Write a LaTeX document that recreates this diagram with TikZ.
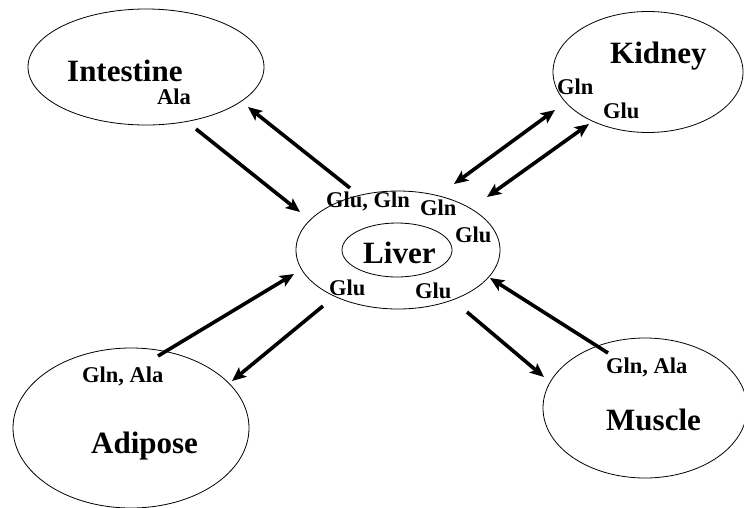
\documentclass[tikz,border=0pt]{standalone}
\usepackage{fontspec}
\setmainfont{Liberation Serif}
\usetikzlibrary{shapes.geometric,arrows.meta}
\tikzset{
  organ/.style={ellipse, draw=black, line width=0.8pt, inner sep=0pt},
  bigname/.style={anchor=base west, inner sep=0pt, font=\bfseries\fontsize{31}{31}\selectfont},
  aminos/.style={anchor=base west, inner sep=0pt, font=\bfseries\fontsize{22.5}{22.5}\selectfont},
  flow/.style={line width=3.6pt, -{Stealth[length=14pt,width=12pt,inset=3pt]}},
  swap/.style={line width=3.6pt, {Stealth[length=14pt,width=12pt,inset=3pt]}-{Stealth[length=14pt,width=12pt,inset=3pt]}}
}
\begin{document}
\begin{tikzpicture}[x=1pt,y=-1pt]
\useasboundingbox (0,0) rectangle (744,507);

% organs
\node[organ, minimum width=236pt, minimum height=116pt] (intestine) at (146,67) {};
\node[organ, minimum width=190pt, minimum height=121pt] (kidney) at (648,72) {};
\node[organ, minimum width=204pt, minimum height=118pt] (liverout) at (398,250) {};
\node[organ, minimum width=110pt, minimum height=54pt] (liverin) at (397,250) {};
\node[organ, minimum width=236pt, minimum height=160pt] (adipose) at (131,428) {};
\node[organ, minimum width=204pt, minimum height=140pt] (muscle) at (645,408) {};

% organ names
\node[bigname] (tIntestine) at (67,81) {Intestine};
\node[bigname] (tKidney) at (610,63) {Kidney};
\node[bigname] (tLiver) at (363,263) {Liver};
\node[bigname] (tAdipose) at (91,453) {Adipose};
\node[bigname] (tMuscle) at (606,430) {Muscle};

% amino acids
\node[aminos] (aIntAla) at (157,104) {Ala};
\node[aminos] (aKidGln) at (557,94) {Gln};
\node[aminos] (aKidGlu) at (603,118) {Glu};
\node[aminos] (aLivGluGln) at (326,207) {Glu, Gln};
\node[aminos] (aLivGln) at (420,215) {Gln};
\node[aminos] (aLivGluR) at (455,242) {Glu};
\node[aminos] (aLivGluBL) at (329,295) {Glu};
\node[aminos] (aLivGluBR) at (415,298) {Glu};
\node[aminos] (aAdiGlnAla) at (82,382) {Gln, Ala};
\node[aminos] (aMusGlnAla) at (606,373) {Gln, Ala};

% connector end points
\coordinate (i1) at (196,129); \coordinate (l1) at (300,212);
\coordinate (l2) at (350,188); \coordinate (i2) at (248,107);
\coordinate (l3) at (454,184); \coordinate (k3) at (555,110);
\coordinate (l4) at (487,197); \coordinate (k4) at (589,124);
\coordinate (a5) at (158,356); \coordinate (l5) at (294,274);
\coordinate (l6) at (323,306); \coordinate (a6) at (232,381);
\coordinate (l7) at (467,312); \coordinate (m7) at (544,377);
\coordinate (m8) at (608,353); \coordinate (l8) at (490,278);

% exchanges
\draw[flow] (i1) -- (l1);
\draw[flow] (l2) -- (i2);
\draw[swap] (l3) -- (k3);
\draw[swap] (l4) -- (k4);
\draw[flow] (a5) -- (l5);
\draw[flow] (l6) -- (a6);
\draw[flow] (l7) -- (m7);
\draw[flow] (m8) -- (l8);
\end{tikzpicture}
\end{document}
